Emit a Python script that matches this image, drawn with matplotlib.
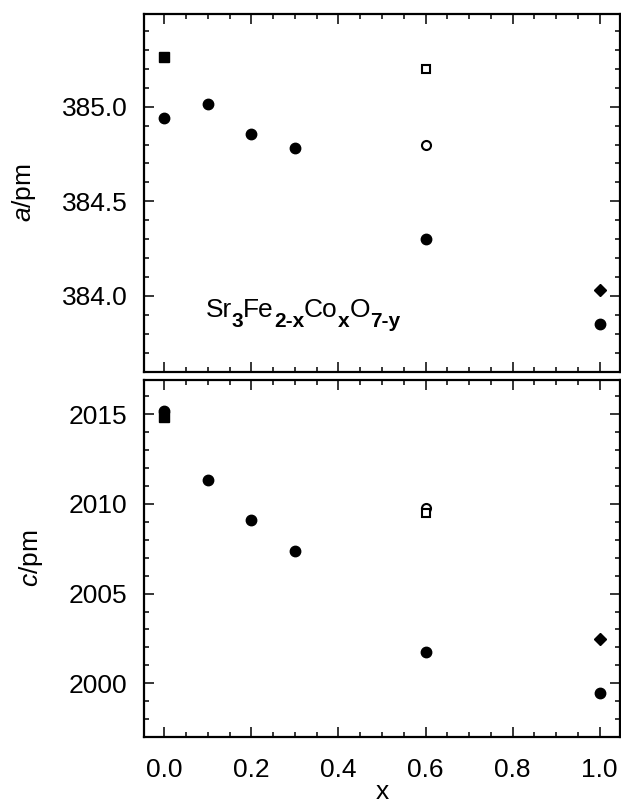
import numpy as np
import matplotlib
matplotlib.use("Agg")
import matplotlib.pyplot as plt
from matplotlib.ticker import MultipleLocator, FormatStrFormatter

plt.rcParams['font.family'] = ['Liberation Sans', 'DejaVu Sans']
plt.rcParams['mathtext.fontset'] = 'custom'
plt.rcParams['mathtext.rm'] = 'Liberation Sans'
plt.rcParams['mathtext.it'] = 'Liberation Sans:italic'
plt.rcParams['mathtext.bf'] = 'Liberation Sans:bold'

# filled circles: main series
x_main = [0.0, 0.1, 0.2, 0.3, 0.6, 1.0]
a_main = [384.943, 385.012, 384.858, 384.783, 384.30, 383.85]
c_main = [2015.17, 2011.35, 2009.10, 2007.37, 2001.76, 1999.47]

# filled square at x = 0
x_fsq = [0.0]
a_fsq = [385.262]
c_fsq = [2014.85]

# open circle at x = 0.6
x_ocirc = [0.6]
a_ocirc = [384.80]
c_ocirc = [2009.76]

# open square at x = 0.6
x_osq = [0.6]
a_osq = [385.198]
c_osq = [2009.48]

# filled diamond at x = 1.0
x_dia = [1.0]
a_dia = [384.03]
c_dia = [2002.45]

fs = 19

fig = plt.figure(figsize=(6.21, 8.08), dpi=100)
ax1 = fig.add_axes([0.2319, 0.540, 0.7665, 0.4427])
ax2 = fig.add_axes([0.2319, 0.0882, 0.7665, 0.4415])


def style(ax):
    for sp in ax.spines.values():
        sp.set_linewidth(1.6)
    ax.tick_params(which='both', direction='in', top=True, right=True,
                   width=1.1, labelsize=fs, pad=12)
    ax.tick_params(axis='x', pad=15)
    ax.tick_params(which='major', length=7.5)
    ax.tick_params(which='minor', length=3.8)
    ax.xaxis.set_major_locator(MultipleLocator(0.2))
    ax.xaxis.set_minor_locator(MultipleLocator(0.05))
    ax.xaxis.set_major_formatter(FormatStrFormatter('%.1f'))
    ax.set_xlim(-0.047, 1.047)


def draw(ax, ym, yfsq, yoc, yosq, ydia):
    ax.plot(x_main, ym, 'o', color='black', ms=7.5, ls='none')
    ax.plot(x_fsq, yfsq, 's', color='black', ms=6.8, ls='none')
    ax.plot(x_ocirc, yoc, 'o', mec='black', mfc='white', ms=6.5, mew=1.5, ls='none')
    ax.plot(x_osq, yosq, 's', mec='black', mfc='white', ms=6.3, mew=1.5, ls='none')
    ax.plot(x_dia, ydia, 'D', color='black', ms=6.0, ls='none')


style(ax1)
style(ax2)
draw(ax1, a_main, a_fsq, a_ocirc, a_osq, a_dia)
draw(ax2, c_main, c_fsq, c_ocirc, c_osq, c_dia)

ax1.set_ylim(383.60, 385.49)
ax1.yaxis.set_major_locator(MultipleLocator(0.5))
ax1.yaxis.set_minor_locator(MultipleLocator(0.1))
ax1.yaxis.set_major_formatter(FormatStrFormatter('%.1f'))
ax1.tick_params(labelbottom=False)
ax1.set_ylabel(r'$\mathit{a}$/pm', fontsize=fs, labelpad=17)

ax2.set_ylim(1997.02, 2016.91)
ax2.yaxis.set_major_locator(MultipleLocator(5))
ax2.yaxis.set_minor_locator(MultipleLocator(1))
ax2.set_ylabel(r'$\mathit{c}$/pm', fontsize=fs, labelpad=17)
ax2.set_xlabel('x', fontsize=fs, labelpad=-1)

# formula label built from pieces so the subscripts can be sized freely
pieces = [('Sr', False), ('3', True), ('Fe', False), ('2-x', True),
          ('Co', False), ('x', True), ('O', False), ('7-y', True)]
base = ax1.text(0.094, 383.891, pieces[0][0], fontsize=fs, va='baseline')
prev = base
for s, sub in pieces[1:]:
    if sub:
        t = ax1.annotate(s, xy=(1, 0), xycoords=(prev, base), xytext=(0, -6.5),
                         textcoords='offset points', fontsize=15,
                         fontweight='bold', va='bottom')
    else:
        t = ax1.annotate(s, xy=(1, 0), xycoords=(prev, base), xytext=(0, 0),
                         textcoords='offset points', fontsize=fs, va='bottom')
    prev = t

fig.savefig('out.png', dpi=100)
